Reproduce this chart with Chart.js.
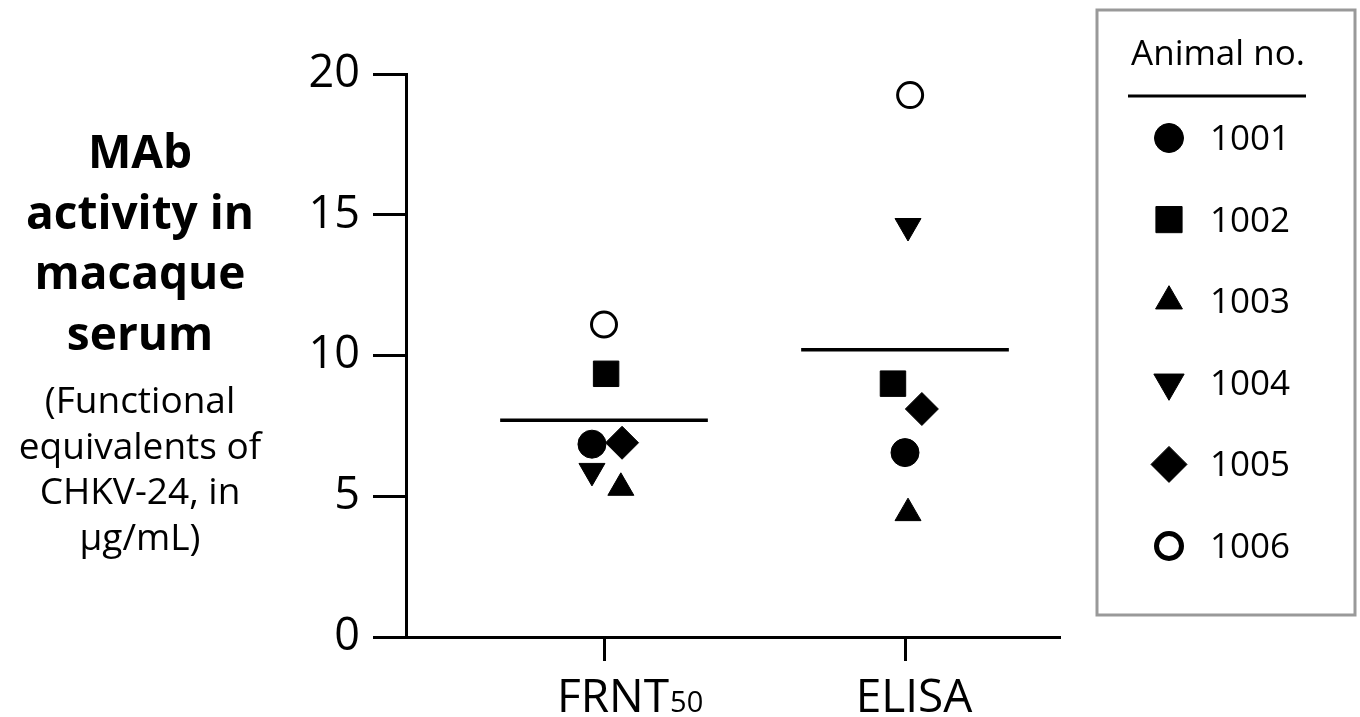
<!DOCTYPE html>
<html>
<head>
<meta charset="utf-8">
<script src="https://cdn.jsdelivr.net/npm/chart.js@4.4.0/dist/chart.umd.min.js"></script>
<style>
  body { margin: 0; background: #fff; }
  #wrap { width: 1360px; height: 717px; }
</style>
</head>
<body>
<div id="wrap"><canvas id="chart" width="1360" height="717"></canvas></div>
<script>
// data
const groups = ['FRNT', 'ELISA'];
const groupSubs = ['50', ''];
const animals = ['1001', '1002', '1003', '1004', '1005', '1006'];
const frntValues = [6.85, 9.35, 5.3, 5.9, 6.9, 11.1];
const elisaValues = [6.55, 9.0, 4.4, 14.6, 8.1, 19.25];
// horizontal scatter of the points around each group (x units)
const frntJitter = [-0.04, 0.007, 0.056, -0.04, 0.06, 0];
const elisaJitter = [0, -0.04, 0.01, 0.01, 0.056, 0.017];
const groupMeans = [7.7, 10.2];
const yTicks = [0, 5, 10, 15, 20];
const leftTitleBold = ['MAb', 'activity in', 'macaque', 'serum'];
const leftTitle = ['(Functional', 'equivalents of', 'CHKV-24, in', '\u00b5g/mL)'];
const legendTitle = 'Animal no.';

// marker look per animal
const markers = [
    { pointStyle: 'circle', radius: 14, legendRadius: 14.5, rotation: 0, fill: '#000', borderWidth: 1, legendBorder: 1 },
    { pointStyle: 'rect', radius: 18, legendRadius: 18.5, rotation: 0, fill: '#000', borderWidth: 1, legendBorder: 1 },
    { pointStyle: 'triangle', radius: 15, legendRadius: 15.5, rotation: 0, fill: '#000', borderWidth: 1, legendBorder: 1 },
    { pointStyle: 'triangle', radius: 15, legendRadius: 17.5, rotation: 180, fill: '#000', borderWidth: 1, legendBorder: 1 },
    { pointStyle: 'rectRot', radius: 16.5, legendRadius: 18, rotation: 0, fill: '#000', borderWidth: 1, legendBorder: 1 },
    { pointStyle: 'circle', radius: 12.5, legendRadius: 12.5, rotation: 0, fill: '#fff', borderWidth: 3, legendBorder: 5 },
];

const FONT = '"Open Sans", "Noto Sans", sans-serif';
const MEAN_HALF = 0.345;

const pointSets = animals.map((name, i) => ({
    type: 'scatter',
    label: name,
    data: [
        { x: 1 + frntJitter[i], y: frntValues[i] },
        { x: 2 + elisaJitter[i], y: elisaValues[i] },
    ],
    pointStyle: markers[i].pointStyle,
    pointRadius: markers[i].radius,
    pointRotation: markers[i].rotation,
    backgroundColor: markers[i].fill,
    borderColor: '#000',
    borderWidth: markers[i].borderWidth,
    clip: false,
}));

const meanSets = groupMeans.map((m, g) => ({
    type: 'line',
    label: 'mean ' + groups[g],
    data: [
        { x: g + 1 - MEAN_HALF, y: m },
        { x: g + 1 + MEAN_HALF, y: m },
    ],
    borderColor: '#000',
    borderWidth: 3.5,
    pointRadius: 0,
    fill: false,
    clip: false,
}));

// title on the left, x labels with subscript, boxed legend
const extras = {
    id: 'extras',
    afterDraw(chart) {
        const ctx = chart.ctx;
        const xs = chart.scales.x;
        ctx.save();
        ctx.fillStyle = '#000';
        ctx.textAlign = 'center';
        ctx.textBaseline = 'alphabetic';

        ctx.font = 'bold 46px ' + FONT;
        leftTitleBold.forEach((t, i) => ctx.fillText(t, 140, 168 + i * 60.7));
        ctx.font = '37px ' + FONT;
        leftTitle.forEach((t, i) => ctx.fillText(t, 140, 413 + i * 45.6));

        // category labels
        groups.forEach((g, i) => {
            const cx = xs.getPixelForValue(i + 1) + 9;
            ctx.font = '46px ' + FONT;
            const w = ctx.measureText(g).width;
            ctx.textAlign = 'left';
            ctx.fillText(g, cx - w / 2, 712);
            if (groupSubs[i]) {
                ctx.font = '29px ' + FONT;
                ctx.fillText(groupSubs[i], cx + w / 2 + 1, 712);
            }
        });

        // legend box
        ctx.strokeStyle = '#999';
        ctx.lineWidth = 3;
        ctx.strokeRect(1097, 10, 258, 605);
        ctx.textAlign = 'center';
        ctx.font = '35px ' + FONT;
        ctx.fillText(legendTitle, 1218, 65);
        ctx.strokeStyle = '#000';
        ctx.beginPath();
        ctx.moveTo(1128, 96);
        ctx.lineTo(1306, 96);
        ctx.stroke();

        ctx.textAlign = 'left';
        ctx.textBaseline = 'middle';
        ctx.font = '35px ' + FONT;
        animals.forEach((name, i) => {
            const y = 138 + i * 81.6;
            const m = markers[i];
            ctx.fillStyle = m.fill;
            ctx.strokeStyle = '#000';
            ctx.lineWidth = m.legendBorder;
            Chart.helpers.drawPoint(ctx, {
                pointStyle: m.pointStyle,
                rotation: m.rotation,
                radius: m.legendRadius,
                borderWidth: m.legendBorder,
            }, 1169, y);
            ctx.fillStyle = '#000';
            ctx.fillText(name, 1210, y + 2);
        });
        ctx.restore();
    }
};

new Chart(document.getElementById('chart'), {
    type: 'scatter',
    data: { datasets: [...meanSets, ...pointSets] },
    options: {
        responsive: false,
        animation: false,
        layout: { padding: { top: 74, right: 301, bottom: 0, left: 0 } },
        plugins: {
            legend: { display: false },
            tooltip: { enabled: false },
        },
        scales: {
            x: {
                type: 'linear',
                min: 0.3422,
                max: 2.5116,
                afterBuildTicks(scale) {
                    scale.ticks = groups.map((g, i) => ({ value: i + 1 }));
                },
                afterFit(scale) { scale.height = 80; },
                ticks: { callback: () => '', font: { size: 10 } },
                grid: { drawOnChartArea: false, tickLength: 24, color: '#000', lineWidth: 3 },
                border: { display: true, color: '#000', width: 3 },
            },
            y: {
                min: 0,
                max: 20,
                afterBuildTicks(scale) {
                    scale.ticks = yTicks.map(v => ({ value: v }));
                },
                afterFit(scale) { scale.width = 406; },
                ticks: {
                    color: '#000',
                    padding: 13,
                    font: { family: FONT, size: 45 },
                },
                grid: { drawOnChartArea: false, tickLength: 33, color: '#000', lineWidth: 3 },
                border: { display: true, color: '#000', width: 3 },
            },
        },
    },
    plugins: [extras],
});
</script>
</body>
</html>
